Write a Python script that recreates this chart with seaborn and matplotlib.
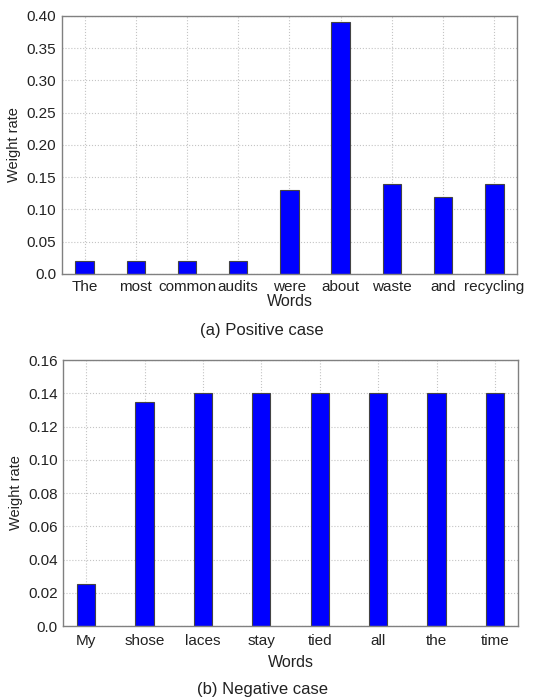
import matplotlib
matplotlib.use("Agg")
import matplotlib.pyplot as plt
import seaborn as sns
import pandas as pd

pos_words = ["The", "most", "common", "audits", "were", "about", "waste", "and", "recycling"]
pos_values = [0.02, 0.02, 0.02, 0.02, 0.13, 0.39, 0.14, 0.12, 0.14]
pos_yticks = [0.0, 0.05, 0.10, 0.15, 0.20, 0.25, 0.30, 0.35, 0.40]
pos_yticklabels = ["0.0", "0.05", "0.10", "0.15", "0.20", "0.25", "0.30", "0.35", "0.40"]

neg_words = ["My", "shose", "laces", "stay", "tied", "all", "the", "time"]
neg_values = [0.025, 0.135, 0.14, 0.14, 0.14, 0.14, 0.14, 0.14]
neg_yticks = [0.0, 0.02, 0.04, 0.06, 0.08, 0.10, 0.12, 0.14, 0.16]
neg_yticklabels = ["0.0", "0.02", "0.04", "0.06", "0.08", "0.10", "0.12", "0.14", "0.16"]

sns.set_theme(style="white")
plt.rcParams["font.family"] = ["Liberation Sans", "DejaVu Sans"]

fig = plt.figure(figsize=(5.37, 7.0), dpi=100)
ax1 = fig.add_axes([0.1155, 0.6086, 0.847, 0.3686])
ax2 = fig.add_axes([0.118, 0.1057, 0.846, 0.38])

def draw(ax, words, values, width, yticks, yticklabels, ylim, xpad, caption, caption_y,
         tickpad, xlabelpad):
    df = pd.DataFrame({"Words": words, "Weight rate": values})
    sns.barplot(data=df, x="Words", y="Weight rate", order=words, color="#0000ff",
                saturation=1, width=width, edgecolor="#444444", linewidth=0.8, ax=ax)
    ax.set_xlim(-xpad, len(words) - 1 + xpad)
    ax.set_ylim(*ylim)
    ax.set_yticks(yticks)
    ax.set_yticklabels(yticklabels)
    ax.grid(True, color="#c4c4c4", linestyle=":", linewidth=0.8)
    ax.set_axisbelow(True)
    for s in ax.spines.values():
        s.set_color("#808080")
        s.set_linewidth(1.0)
    ax.tick_params(axis="both", length=0, labelsize=11, colors="#222222", pad=4)
    ax.tick_params(axis="x", pad=tickpad)
    ax.set_xlabel("Words", fontsize=11.5, color="#222222", labelpad=xlabelpad)
    ax.set_ylabel("Weight rate", fontsize=10.5, color="#222222", labelpad=4)
    fig.text(0.488, caption_y, caption, ha="center", va="center", fontsize=12, color="#222222")

draw(ax1, pos_words, pos_values, 0.36, pos_yticks, pos_yticklabels, (0, 0.40), 0.44,
     "(a) Positive case", 0.528, 4, 0)
draw(ax2, neg_words, neg_values, 0.31, neg_yticks, neg_yticklabels, (0, 0.16), 0.39,
     "(b) Negative case", 0.0143, 6, 5)

fig.savefig("out.png", dpi=100)
